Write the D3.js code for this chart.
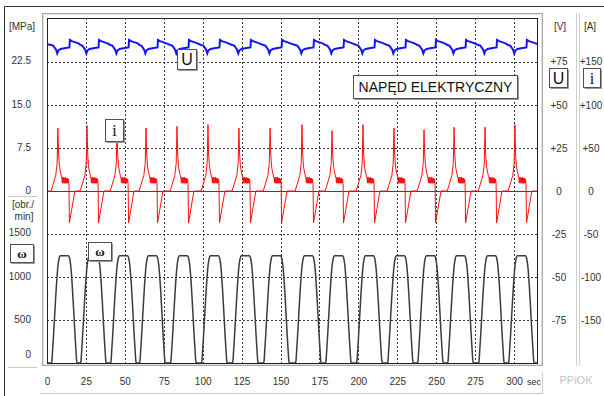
<!DOCTYPE html>
<html>
<head>
<meta charset="utf-8">
<script src="https://cdn.jsdelivr.net/npm/d3@7"></script>
<style>
body { margin: 0; background: #fff; }
text { font-family: "Liberation Sans", Arial, sans-serif; }
</style>
</head>
<body>
<svg id="chart" width="604" height="396"></svg>
<script>
// tick values of the four scales
var timeTicks = [0, 25, 50, 75, 100, 125, 150, 175, 200, 225, 250, 275, 300];
var mpaTicks = [0, 7.5, 15, 22.5];
var rpmTicks = [0, 500, 1000, 1500];
var voltTicks = [75, 50, 25, 0, -25, -50, -75];
var ampTicks = [150, 100, 50, 0, -50, -100, -150];

// one working cycle per current peak (sec)
var peakTimes = [7.0, 25.7, 45.0, 63.6, 83.5, 103.4, 123.3, 143.3, 163.8, 183.1, 203.0, 222.9, 242.2, 261.5, 281.4, 300.6];
var peakCurrent = [73, 76, 72, 73, 75, 77, 73, 73, 77, 70, 77, 73, 71, 74, 74, 77];

// shape of one cycle, [sec from peak, value]
var voltShape = [[-4.3, 84.7], [-3.0, 84.3], [-1.2, 82.0], [-0.45, 79.8], [0.3, 81.6], [1.7, 82.4], [4.9, 82.9],
                 [7.4, 83.3], [7.7, 87.6], [9.0, 86.9], [11.4, 86.2], [13.5, 85.5]];
var currRise = [[-4.4, 0], [-1.4, 18], [-0.5, 32]];
var currAfter = [[0.45, 42], [1.0, 28], [1.7, 21], [2.4, 16]];
var currNoise = [15, 10, 16, 9, 14, 11, 16, 9, 15, 10, 14, 9, 16, 10, 15, 9, 14, 10, 15, 9, 13, 10, 14, 9];
var currBrake = [[7.1, 9], [7.4, -37], [10.9, 0]];
var speedShape = [[-4.3, 0], [-3.9, 20], [-3.4, 150], [0.2, 1150], [0.8, 1215], [1.5, 1243], [6.8, 1243],
                  [7.5, 1215], [8.1, 1150], [11.6, 150], [12.1, 20], [12.5, 0]];
var tEnd = 315.5;

var svg = d3.select("#chart");

var x = d3.scaleLinear().domain([0, 300]).range([47, 514]);
var yMpa = d3.scaleLinear().domain([0, 30]).range([191, 18.6]);
var yRpm = d3.scaleLinear().domain([0, 2000]).range([363, 190.6]);
var yV = d3.scaleLinear().domain([-100, 100]).range([363.4, 18.6]);
var yA = d3.scaleLinear().domain([-200, 200]).range([363.4, 18.6]);

var plot = {left: 47, top: 18, right: 538, bottom: 363};

// build the series from cycle shapes
function cycles(shapeFor) {
  var out = [];
  peakTimes.forEach(function(p, k) {
    var shape = shapeFor(k);
    var next = k + 1 < peakTimes.length ? peakTimes[k + 1] + shape[0][0] : Infinity;
    shape.forEach(function(s) {
      var t = p + s[0];
      if (t < next) out.push([t, s[1]]);
    });
  });
  return out;
}

var voltData = [[0, 85.2]].concat(cycles(function() { return voltShape; }), [[tEnd, 85.3]]);
var speedData = [[0, 0]].concat(cycles(function() { return speedShape; }), [[tEnd, 0]]);
var currData = [[0, 0]].concat(cycles(function(k) {
  var pts = currRise.slice();
  pts.push([0, peakCurrent[k]]);
  pts = pts.concat(currAfter);
  currNoise.forEach(function(v, j) {
    pts.push([2.6 + j * 4.4 / (currNoise.length - 1), v]);
  });
  return pts.concat(currBrake);
}), [[tEnd, 0]]);

// outer frame
svg.append("line").attr("x1", 4.5).attr("x2", 604).attr("y1", 6.5).attr("y2", 6.5)
  .attr("stroke", "#333");
svg.append("line").attr("x1", 4.5).attr("x2", 4.5).attr("y1", 6.5).attr("y2", 396)
  .attr("stroke", "#333");

// light panel lines
svg.append("rect").attr("x", 42.5).attr("y", 13.5).attr("width", 500).attr("height", 352)
  .attr("fill", "none").attr("stroke", "#a8a8a0");
svg.append("rect").attr("x", 43.5).attr("y", 14.5).attr("width", 498).attr("height", 350)
  .attr("fill", "none").attr("stroke", "#e4e4de");
[[8, 37, 196.5], [8, 37, 367.5], [40, 543, 393.5]].forEach(function(l) {
  svg.append("line").attr("x1", l[0]).attr("x2", l[1]).attr("y1", l[2]).attr("y2", l[2])
    .attr("stroke", "#c8c8c0");
});
[[542.5, 372, 393], [576.5, 13, 366], [579.5, 13, 366]].forEach(function(l) {
  svg.append("line").attr("x1", l[0]).attr("x2", l[0]).attr("y1", l[1]).attr("y2", l[2])
    .attr("stroke", "#d0d0c8");
});

// grid
var grid = svg.append("g");
grid.selectAll(".vgrid")
  .data(timeTicks.filter(function(d) { return d > 0; }))
  .enter().append("line")
  .attr("x1", function(d) { return Math.round(x(d)) + 0.5; })
  .attr("x2", function(d) { return Math.round(x(d)) + 0.5; })
  .attr("y1", plot.top).attr("y2", plot.bottom)
  .attr("stroke", "#333").attr("stroke-dasharray", "2,2");
var hLines = mpaTicks.filter(function(d) { return d > 0; }).map(function(d) { return yMpa(d); })
  .concat(rpmTicks.filter(function(d) { return d > 0; }).map(function(d) { return yRpm(d); }));
grid.selectAll(".hgrid")
  .data(hLines)
  .enter().append("line")
  .attr("x1", plot.left).attr("x2", plot.right)
  .attr("y1", function(d) { return Math.round(d) + 0.5; })
  .attr("y2", function(d) { return Math.round(d) + 0.5; })
  .attr("stroke", "#333").attr("stroke-dasharray", "2,2");
svg.append("line")
  .attr("x1", plot.left).attr("x2", plot.right)
  .attr("y1", Math.round(yMpa(0)) + 0.5).attr("y2", Math.round(yMpa(0)) + 0.5)
  .attr("stroke", "#444");

// series
svg.append("clipPath").attr("id", "clip").append("rect")
  .attr("x", plot.left).attr("y", plot.top)
  .attr("width", plot.right - plot.left).attr("height", plot.bottom - plot.top);
var lines = svg.append("g").attr("clip-path", "url(#clip)");

lines.append("path")
  .datum(speedData)
  .attr("fill", "none").attr("stroke", "#3c3c3c").attr("stroke-width", 1.5)
  .attr("d", d3.line().curve(d3.curveMonotoneX)
    .x(function(d) { return x(d[0]); })
    .y(function(d) { return yRpm(d[1]); }));

lines.append("path")
  .datum(currData)
  .attr("fill", "none").attr("stroke", "#ff1010").attr("stroke-width", 1)
  .attr("d", d3.line()
    .x(function(d) { return x(d[0]); })
    .y(function(d) { return yA(d[1]); }));

lines.append("path")
  .datum(voltData)
  .attr("fill", "none").attr("stroke", "#1414ff").attr("stroke-width", 2)
  .attr("d", d3.line()
    .x(function(d) { return x(d[0]); })
    .y(function(d) { return yV(d[1]); }));

// plot border
svg.append("rect").attr("x", plot.left + 0.5).attr("y", plot.top + 0.5)
  .attr("width", plot.right - plot.left - 1).attr("height", plot.bottom - plot.top)
  .attr("fill", "none").attr("stroke", "#222");

// axes, labels only
function styleAxis(g) {
  g.select(".domain").remove();
  g.selectAll("text").attr("fill", "#333").style("font-size", "10px")
    .style("font-family", "'Liberation Sans', Arial, sans-serif");
}

svg.append("g").attr("transform", "translate(32,-1)")
  .call(d3.axisLeft(yMpa).tickValues(mpaTicks).tickSize(0).tickPadding(1)
    .tickFormat(function(d) { return d == 0 ? "0" : d3.format(".1f")(d); }))
  .call(styleAxis);

var rpmAxis = svg.append("g").attr("transform", "translate(32,-1)")
  .call(d3.axisLeft(yRpm).tickValues(rpmTicks).tickSize(0).tickPadding(1).tickFormat(d3.format("d")))
  .call(styleAxis);
rpmAxis.selectAll(".tick").filter(function(d) { return d == 0; })
  .attr("transform", "translate(0," + (yRpm(0) - 7) + ")");

function signed(d) { return d > 0 ? "+" + d : String(d); }

svg.append("g").attr("transform", "translate(559,0)")
  .call(d3.axisRight(yV).tickValues(voltTicks).tickSize(0).tickPadding(0).tickFormat(signed))
  .call(styleAxis)
  .selectAll("text").attr("text-anchor", "middle");

svg.append("g").attr("transform", "translate(591,0)")
  .call(d3.axisRight(yA).tickValues(ampTicks).tickSize(0).tickPadding(0).tickFormat(signed))
  .call(styleAxis)
  .selectAll("text").attr("text-anchor", "middle");

svg.append("g").attr("transform", "translate(0,378)")
  .call(d3.axisBottom(x).tickValues(timeTicks).tickSize(0).tickPadding(0))
  .call(styleAxis);

function label(txt, px, py, size, anchor, color) {
  svg.append("text").attr("x", px).attr("y", py).attr("text-anchor", anchor || "middle")
    .attr("fill", color || "#333").style("font-size", size + "px").text(txt);
}
label("sec", 527, 385, 9, "start");
label("[MPa]", 22, 30, 10);
label("[obr./", 23, 208, 10);
label("min]", 24, 220, 10);
label("[V]", 560, 30, 10);
label("[A]", 590, 30, 10);
label("PPiOK", 576, 384, 11, "middle", "#c4c4c4");

// boxed labels
function box(px, py, w, h, txt, size, family, weight) {
  svg.append("rect").attr("x", px + 0.5).attr("y", py + 0.5).attr("width", w).attr("height", h)
    .attr("fill", "#fff").attr("stroke", "#505050");
  svg.append("line").attr("x1", px + 1.5).attr("x2", px + w + 1.5).attr("y1", py + h + 1.5).attr("y2", py + h + 1.5)
    .attr("stroke", "#999");
  svg.append("line").attr("x1", px + w + 1.5).attr("x2", px + w + 1.5).attr("y1", py + 1.5).attr("y2", py + h + 1.5)
    .attr("stroke", "#999");
  svg.append("text").attr("x", px + w / 2 + 0.5).attr("y", py + h / 2 + 0.5)
    .attr("text-anchor", "middle").attr("dominant-baseline", "central")
    .attr("fill", "#111").style("font-size", size + "px")
    .style("font-family", family).style("font-weight", weight || "normal")
    .text(txt);
}
box(177, 49, 19, 20, "U", 16, "'Liberation Sans', Arial, sans-serif");
box(105, 119, 18, 22, "i", 16, "'Liberation Serif', serif");
box(88, 242, 23, 18, "ω", 13, "'Liberation Serif', serif", "bold");
box(10, 244, 23, 18, "ω", 13, "'Liberation Serif', serif", "bold");
box(549, 68, 18, 19, "U", 16, "'Liberation Sans', Arial, sans-serif");
box(583, 68, 17, 19, "i", 16, "'Liberation Serif', serif");
box(353, 75, 164, 23, "NAPĘD ELEKTRYCZNY", 14, "'Liberation Sans', Arial, sans-serif");
</script>
</body>
</html>
